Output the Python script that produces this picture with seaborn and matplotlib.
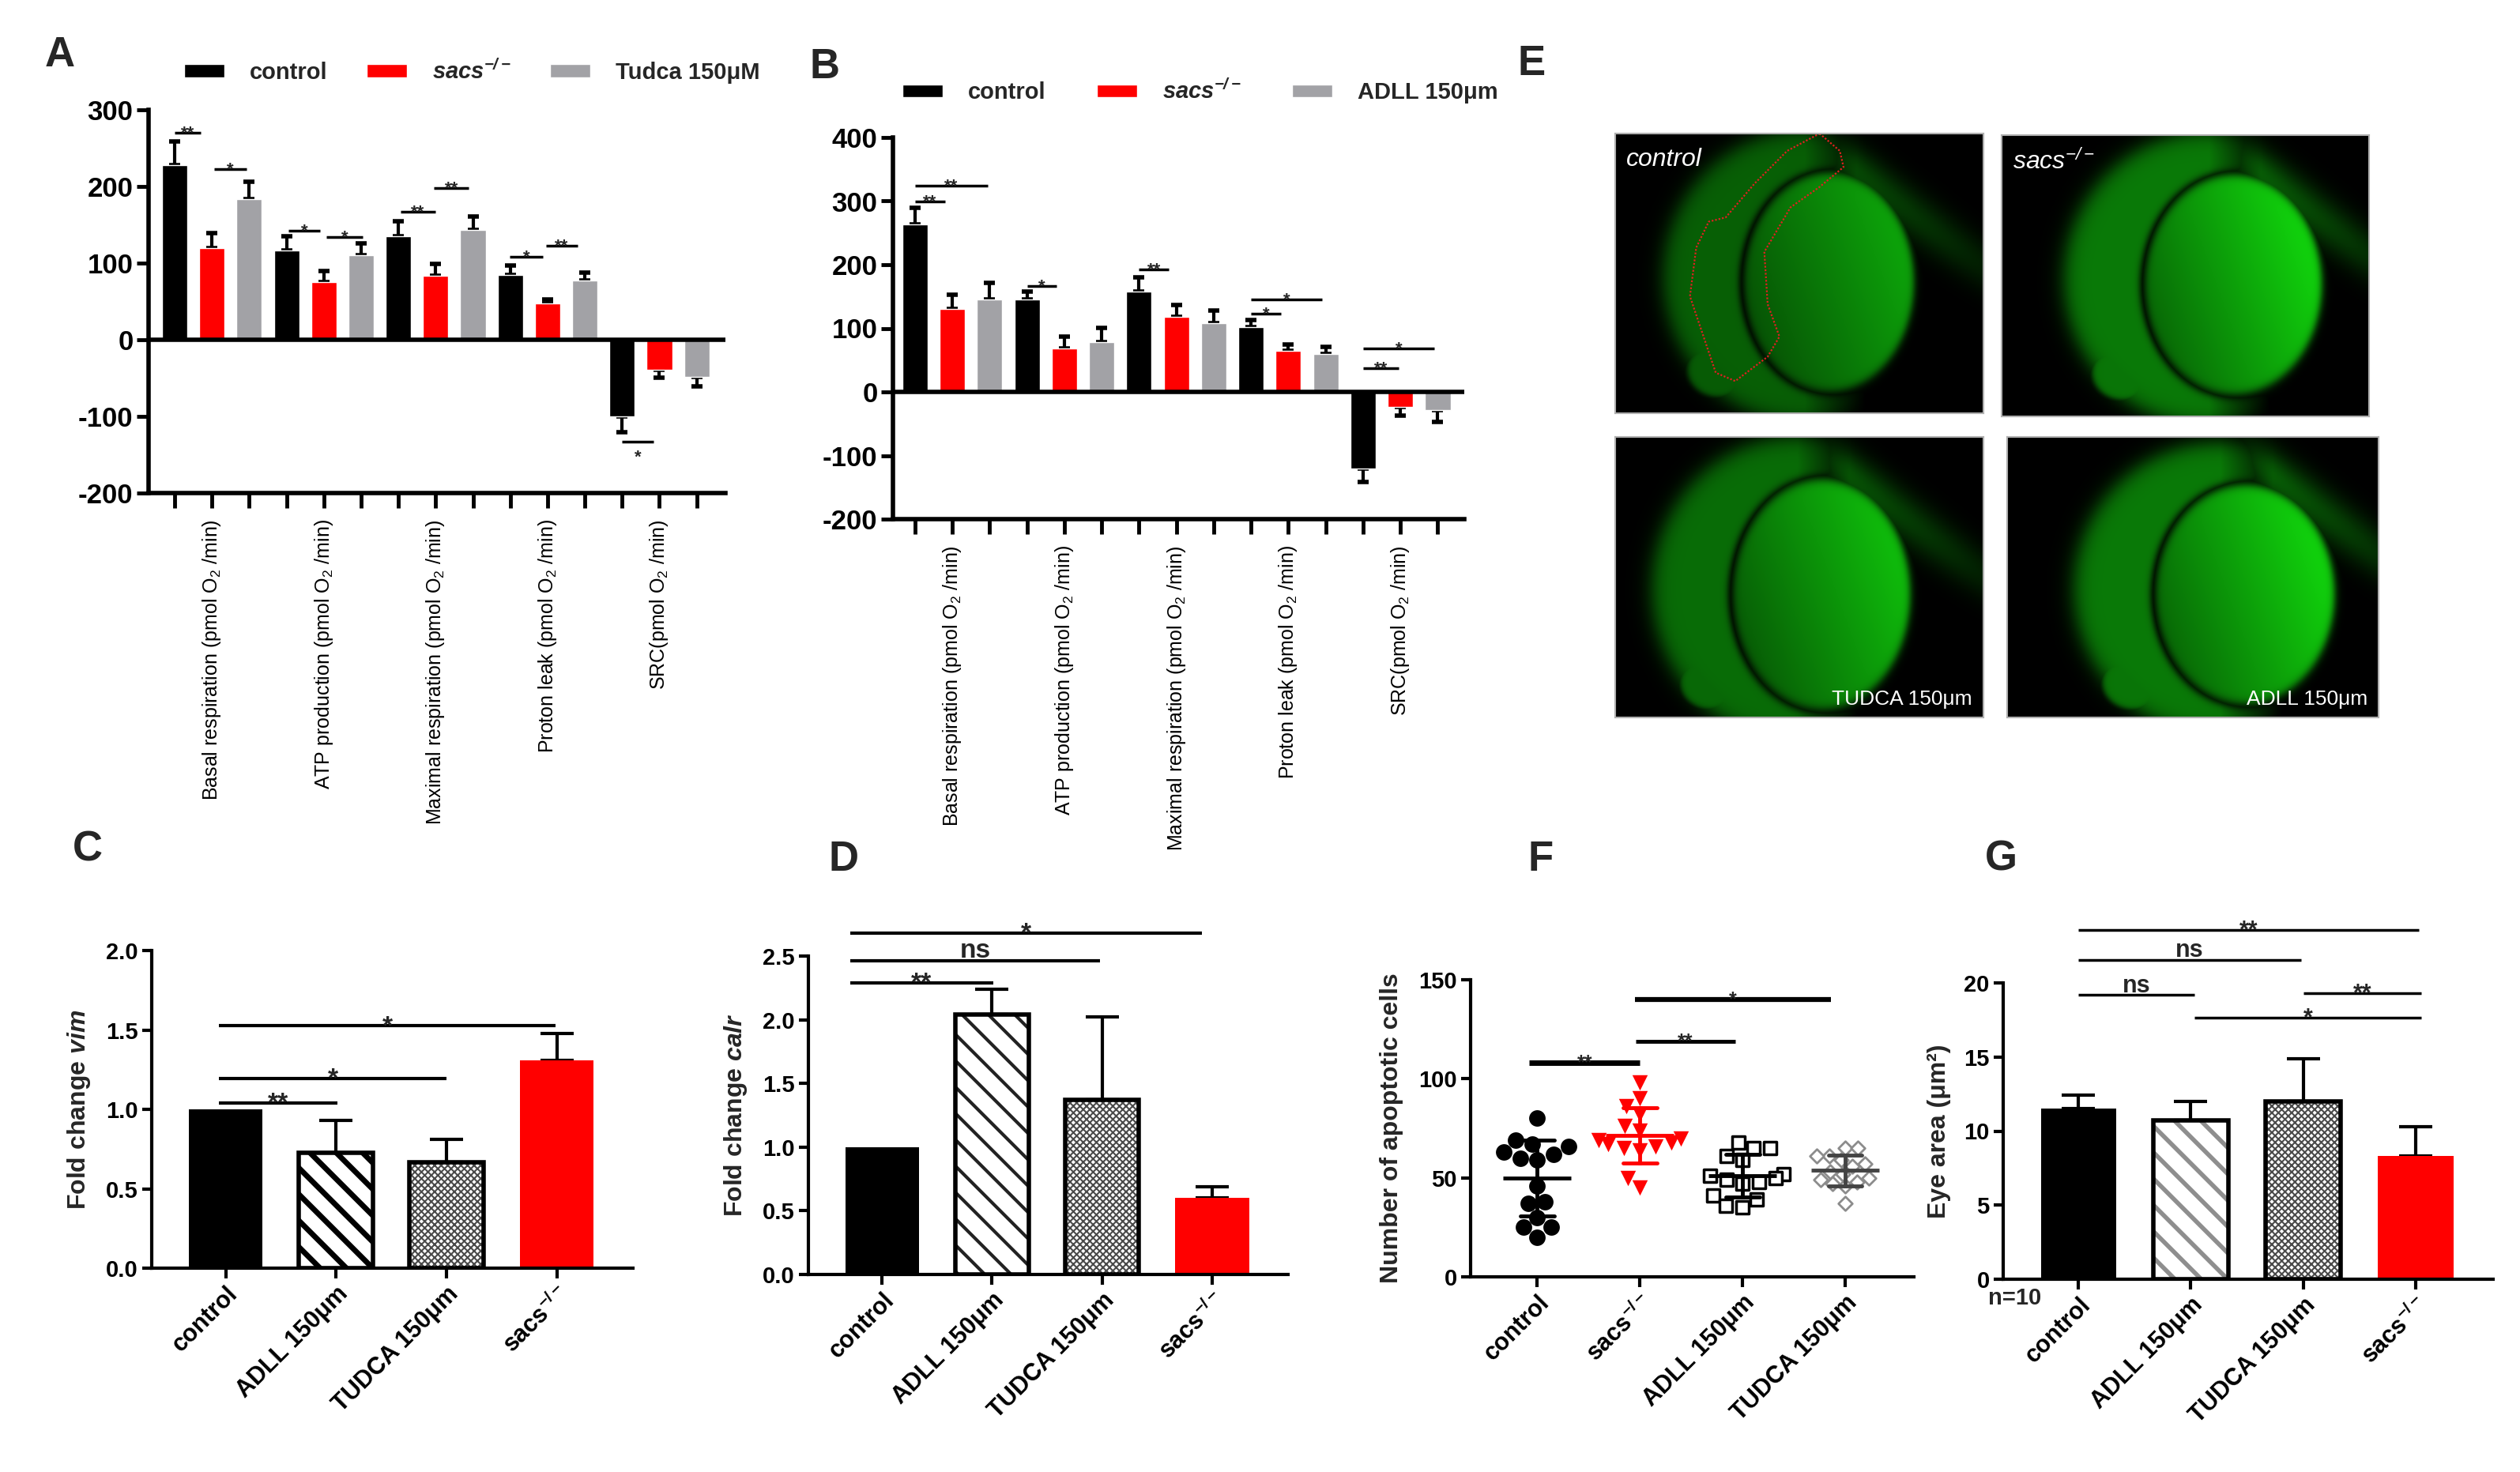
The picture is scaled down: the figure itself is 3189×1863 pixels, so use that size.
import numpy as np
import pandas as pd
import matplotlib
matplotlib.use('Agg')
import matplotlib.pyplot as plt
from matplotlib.patches import Patch, Rectangle
from matplotlib.ticker import FormatStrFormatter
import seaborn as sns

# ---------------- data ----------------
# panel A / B : mitochondrial respiration
a_measures = ['Basal respiration (pmol O$\\mathregular{_2}$ /min)',
              'ATP production (pmol O$\\mathregular{_2}$ /min)',
              'Maximal respiration (pmol O$\\mathregular{_2}$ /min)',
              'Proton leak (pmol O$\\mathregular{_2}$ /min)',
              'SRC(pmol O$\\mathregular{_2}$ /min)']
a_groups = ['control', 'sacs', 'Tudca 150\u03bcM']
a_control = [228, 116, 135, 85, -100]
a_control_err = [31, 19, 20, 12, 21]
a_sacs = [120, 75, 83, 47, -39]
a_sacs_err = [19, 15, 16, 6, 10]
a_tudca = [183, 110, 143, 77, -48]
a_tudca_err = [23, 16, 18, 11, 13]
# significance bars: (first bar index, last bar index, y, label)
a_sig = [(0, 0.7, 270, '**'), (1.05, 1.93, 223, '*'), (3.05, 3.9, 142, '*'),
         (4.07, 5.04, 134, '*'), (6.05, 7.0, 167, '**'), (6.96, 7.88, 198, '**'),
         (8.99, 9.88, 108, '*'), (9.97, 10.8, 123, '**'), (12.0, 12.85, -133, '*v')]

b_groups = ['control', 'sacs', 'ADLL 150\u03bcm']
b_control = [263, 145, 158, 102, -120]
b_control_err = [27, 13, 22, 11, 21]
b_sacs = [131, 68, 118, 64, -23]
b_sacs_err = [22, 19, 19, 11, 14]
b_adll = [145, 78, 108, 60, -29]
b_adll_err = [26, 23, 20, 11, 18]
b_sig = [(0, 1.95, 324, '**'), (0, 0.8, 299, '**'), (3.0, 3.8, 167, '*'),
         (6.0, 6.8, 193, '**'), (9.0, 10.9, 145, '*'), (9.0, 9.8, 123, '*'),
         (12.0, 13.9, 68, '*'), (12.0, 12.95, 37, '**')]

# panels C, D, G : bar charts
treat_names = ['control', 'ADLL 150\u03bcm', 'TUDCA 150\u03bcm', 'sacs$\\mathregular{^{-/-}}$']
c_vals = [1.0, 0.725, 0.667, 1.31]
c_err = [0.0, 0.205, 0.145, 0.17]
c_sig = [(-0.06, 1.01, 1.04, '**'), (-0.06, 2.0, 1.195, '*'), (-0.06, 2.99, 1.525, '*')]

d_vals = [1.0, 2.04, 1.37, 0.6]
d_err = [0.0, 0.2, 0.65, 0.09]
d_sig = [(-0.29, 1.01, 2.29, '**'), (-0.29, 1.98, 2.46, 'ns'), (-0.29, 2.91, 2.68, '*')]

g_vals = [11.5, 10.7, 12.0, 8.3]
g_err = [0.95, 1.3, 2.9, 2.0]
g_sig = [(0, 3.03, 23.55, '**'), (0, 1.98, 21.56, 'ns'), (0, 1.03, 19.18, 'ns'),
         (2.0, 3.05, 19.3, '**'), (1.03, 3.05, 17.65, '*')]

# panel F : apoptotic cells per embryo
f_names = ['control', 'sacs$\\mathregular{^{-/-}}$', 'ADLL 150\u03bcm', 'TUDCA 150\u03bcm']
f_control = [80, 69, 67, 66, 63, 62, 60, 59, 46, 38, 37, 30, 25, 25, 20]
f_sacs = [98, 90, 86, 82, 76, 74, 70, 69, 68, 67, 66, 65, 64, 50, 45]
f_adll = [68, 65, 65, 61, 59, 52, 51, 50, 49, 48, 47, 41, 39, 36, 35]
f_tudca = [65, 65, 61, 61, 59, 57, 56, 53, 52, 50, 49, 48, 47, 46, 37]
f_sig = [(-0.08, 1.0, 108, '**'), (0.96, 1.93, 119, '**'), (0.95, 2.86, 140, '*')]

# ---------------- style ----------------
sns.set_style('ticks')
plt.rcParams['font.family'] = ['Liberation Sans', 'DejaVu Sans']
plt.rcParams['mathtext.fontset'] = 'custom'
plt.rcParams['mathtext.rm'] = 'Liberation Sans:bold'
plt.rcParams['mathtext.it'] = 'Liberation Sans:italic:bold'
plt.rcParams['mathtext.bf'] = 'Liberation Sans:bold'
plt.rcParams['axes.edgecolor'] = 'black'
plt.rcParams['xtick.color'] = 'black'
plt.rcParams['ytick.color'] = 'black'

NARROW = ['Liberation Sans Narrow', 'Liberation Sans', 'DejaVu Sans']
RED = '#ff0000'
GREY = '#a2a2a6'

fig = plt.figure(figsize=(31.89, 18.63), dpi=100)
fig.patch.set_facecolor('white')


def W(px):
    return px / 3189


def H(px):
    return px / 1863


def rect(x0, y0, x1, y1):
    # pixel box (top-left origin) -> figure fraction
    return [W(x0), 1 - H(y1), W(x1 - x0), H(y1 - y0)]


def add_sig(ax, x0, x1, y, label, lw=2.5, fs=20):
    ax.plot([x0, x1], [y, y], color='black', lw=lw, clip_on=False,
            solid_capstyle='butt', zorder=5)
    below = label.endswith('v')
    label = label.rstrip('v')
    if '*' in label:
        off = -1.15 * fs if below else -0.3 * fs
    else:
        off = 0.12 * fs
    ax.annotate(label, ((x0 + x1) / 2, y), xytext=(0, off), textcoords='offset points',
                ha='center', va='baseline', fontsize=fs, fontweight='bold',
                annotation_clip=False, zorder=6)


def long_table(labels, names, series):
    rows = []
    for name, vals in zip(names, series):
        for lab, v in zip(labels, vals):
            rows.append({'measure': lab, 'group': name, 'value': v})
    return pd.DataFrame(rows)


def resp_panel(box, names, series, errs, ylim, yticks, sig, xlim_bars, leg_anchor, colspace):
    ax = fig.add_axes(rect(*box))
    df = long_table(a_measures, names, series)
    order = list(a_measures)
    sns.barplot(data=df, x='measure', y='value', hue='group', order=order, hue_order=names,
                palette=['black', RED, GREY], width=1.0, gap=0.32, errorbar=None,
                saturation=1, legend=False, ax=ax, zorder=2)
    bar_conts = list(ax.containers)
    centers = []
    for k, cont in enumerate(bar_conts):
        for j, bar in enumerate(cont.patches):
            xc = bar.get_x() + bar.get_width() / 2
            v = series[k][j]
            e = errs[k][j]
            yerr = [[0], [e]] if v >= 0 else [[e], [0]]
            ax.errorbar([xc], [v], yerr=yerr, fmt='none', ecolor='black',
                        elinewidth=3, capsize=5, capthick=4, zorder=1)
            centers.append((xc, k, j))
    centers.sort()
    ax.set_xticks([c[0] for c in centers])
    ax.set_xticklabels([order[j] if k == 1 else '' for _, k, j in centers],
                       rotation=90, fontsize=18, va='top', ha='center')
    ax.axhline(0, color='black', lw=4, zorder=3)
    ax.set_ylim(*ylim)
    ax.set_yticks(yticks)
    ax.set_yticklabels([str(t) for t in yticks], fontsize=25, fontweight='bold', family=NARROW)
    ax.set_xlim((xlim_bars[0] - 1) / 3, (xlim_bars[1] - 1) / 3)
    ax.set_xlabel('')
    ax.set_ylabel('')
    sns.despine(ax=ax)
    for s in ['left', 'bottom']:
        ax.spines[s].set_linewidth(4)
    ax.tick_params(axis='x', length=14, width=3.5, pad=10)
    ax.tick_params(axis='y', length=11, width=3.5, pad=3)
    for x0, x1, y, lab in sig:
        add_sig(ax, (x0 - 1) / 3, (x1 - 1) / 3, y, lab, lw=2.5, fs=16)
    handles = [Patch(facecolor=c) for c in ['black', RED, GREY]]
    labels = ['control', 'sacs$\\mathregular{^{-/-}}$', names[2]]
    leg = ax.legend(handles, labels, loc='center left', bbox_to_anchor=leg_anchor, ncol=3,
                    frameon=False, handlelength=1.75, handleheight=0.5, handletextpad=1.1,
                    columnspacing=colspace, borderaxespad=0,
                    prop={'family': NARROW, 'weight': 'bold', 'size': 21})
    leg.get_texts()[1].set_fontstyle('italic')
    return ax


resp_panel((188, 139, 918, 624), a_groups, [a_control, a_sacs, a_tudca],
           [a_control_err, a_sacs_err, a_tudca_err], (-200, 300),
           [-200, -100, 0, 100, 200, 300], a_sig, (-0.7, 14.77), (0.045, 1.10), 1.7)
resp_panel((1130, 174, 1853, 657), b_groups, [b_control, b_sacs, b_adll],
           [b_control_err, b_sacs_err, b_adll_err], (-200, 400),
           [-200, -100, 0, 100, 200, 300, 400], b_sig, (-0.59, 14.71), (0.0, 1.12), 2.2)


def bar_panel(box, vals, errs, ylim, yticks, fmt, ylabel, sig, styles, stripe_col,
              sig_lw, sig_fs, hatch_lw):
    ax = fig.add_axes(rect(*box))
    df = pd.DataFrame({'group': treat_names, 'value': vals})
    base = {'solid_k': 'black', 'solid_r': RED, 'stripe': 'white', 'check': 'white'}
    sns.barplot(data=df, x='group', y='value', hue='group', order=treat_names,
                hue_order=treat_names, palette=[base[s] for s in styles], width=0.67,
                errorbar=None, saturation=1, legend=False, ax=ax, zorder=2)
    bars = list(ax.patches)
    for bar, st, v, e in zip(bars, styles, vals, errs):
        bar.set_linewidth(0)
        if st in ('stripe', 'check'):
            bar.set_hatch('\\' if st == 'stripe' else 'xxxx')
            bar.set_edgecolor(stripe_col if st == 'stripe' else '#4a4a4a')
            if hasattr(bar, 'set_hatch_linewidth'):
                bar.set_hatch_linewidth(hatch_lw if st == 'stripe' else 1.5)
            ax.add_patch(Rectangle((bar.get_x(), bar.get_y()), bar.get_width(),
                                   bar.get_height(), fill=False, edgecolor='black',
                                   lw=4, zorder=3))
        xc = bar.get_x() + bar.get_width() / 2
        if e > 0:
            ax.errorbar([xc], [v], yerr=[[0], [e]], fmt='none', ecolor='black',
                        elinewidth=3, capsize=15, capthick=3, zorder=1)
    ax.set_ylim(*ylim)
    ax.set_xlim(-0.67, 3.69)
    ax.set_yticks(yticks)
    ax.yaxis.set_major_formatter(FormatStrFormatter(fmt))
    ax.set_xlabel('')
    ax.set_ylabel(ylabel, fontsize=23, fontweight='bold', labelpad=12)
    sns.despine(ax=ax)
    for s in ['left', 'bottom']:
        ax.spines[s].set_linewidth(3)
    ax.tick_params(axis='both', length=9, width=3, labelsize=21)
    for t in ax.get_yticklabels():
        t.set_fontweight('bold')
    ax.set_xticks(range(len(treat_names)))
    ax.set_xticklabels(treat_names, rotation=45, ha='right', rotation_mode='anchor',
                       fontsize=22, fontweight='bold')
    for x0, x1, y, lab in sig:
        add_sig(ax, x0, x1, y, lab, lw=sig_lw, fs=sig_fs)
    return ax


styles = ['solid_k', 'stripe', 'check', 'solid_r']
bar_panel((192, 1203, 801, 1605), c_vals, c_err, (0, 2.0), [0, 0.5, 1.0, 1.5, 2.0], '%.1f',
          'Fold change $\\mathit{vim}$', c_sig, styles, 'black', 3, 24, 5)
bar_panel((1023, 1210, 1630, 1613), d_vals, d_err, (0, 2.5), [0, 0.5, 1.0, 1.5, 2.0, 2.5], '%.1f',
          'Fold change $\\mathit{calr}$', d_sig, styles, '#222222', 3, 24, 3)
axg = bar_panel((2535, 1244, 3155, 1619), g_vals, g_err, (0, 20), [0, 5, 10, 15, 20], '%d',
                'Eye area (\u03bcm\u00b2)', g_sig, styles, '#8e8e8e', 2.5, 22, 4)
axg.text(-0.03, -0.065, 'n=10', transform=axg.transAxes, ha='left', va='center',
         fontsize=21, fontweight='bold')

# ---------------- panel F ----------------
axf = fig.add_axes(rect(1861, 1240, 2422, 1616))
rows = []
for name, vals in zip(f_names, [f_control, f_sacs, f_adll, f_tudca]):
    for v in vals:
        rows.append({'group': name, 'value': v})
df_f = pd.DataFrame(rows)
marker_style = [('o', 'black', 'black', 15, 0),
                ('v', RED, RED, 14, 0),
                ('s', 'white', 'black', 12, 2.5),
                ('D', 'white', '#8c8c8c', 9, 2)]
for name, (mk, face, edge, size, lw) in zip(f_names, marker_style):
    sns.swarmplot(data=df_f[df_f['group'] == name], x='group', y='value', order=f_names,
                  marker=mk, color=face, edgecolor=edge, linewidth=lw, size=size,
                  ax=axf, warn_thresh=1, zorder=2)
sns.pointplot(data=df_f, x='group', y='value', hue='group', order=f_names, hue_order=f_names,
              palette=['black', RED, 'black', '#444444'], errorbar='sd', marker='_',
              markersize=62, markeredgewidth=3.5, linestyle='none', capsize=0.33,
              err_kws={'linewidth': 3.5}, dodge=False, legend=False, ax=axf)
axf.set_ylim(0, 150)
axf.set_xlim(-0.65, 3.67)
axf.set_yticks([0, 50, 100, 150])
axf.set_xlabel('')
axf.set_ylabel('Number of apoptotic cells', fontsize=23, fontweight='bold', labelpad=14)
sns.despine(ax=axf)
for s in ['left', 'bottom']:
    axf.spines[s].set_linewidth(3)
axf.tick_params(axis='both', length=9, width=3, labelsize=21)
for t in axf.get_yticklabels():
    t.set_fontweight('bold')
axf.set_xticks(range(len(f_names)))
axf.set_xticklabels(f_names, rotation=45, ha='right', rotation_mode='anchor',
                    fontsize=22, fontweight='bold')
for (x0, x1, y, lab), lw in zip(f_sig, [5, 3.5, 4.5]):
    add_sig(axf, x0, x1, y, lab, lw=lw, fs=18)


# ---------------- panel E (embryo images) ----------------
e_boxes = [(2044, 169, 2510, 523), (2533, 171, 2998, 527),
           (2044, 553, 2510, 908), (2540, 553, 3010, 908)]
e_yolk = [(0.58, 0.53, 0.23, 0.39), (0.63, 0.53, 0.24, 0.39),
          (0.56, 0.56, 0.24, 0.41), (0.64, 0.56, 0.24, 0.39)]
e_gain = [0.72, 0.92, 0.82, 0.92]
e_texts = [('control', 'tl'), ('sacs$\\mathregular{^{-/-}}$', 'tl'),
           ('TUDCA 150\u03bcm', 'br'), ('ADLL 150\u03bcm', 'br')]


def embryo(h, w, yolk, gain):
    yy, xx = np.mgrid[0:h, 0:w]
    u = xx / w
    v = yy / h
    cx, cy, rx, ry = yolk

    def blob(x0, y0, ax_, ay_, soft=0.05):
        d = np.sqrt(((u - x0) / ax_) ** 2 + ((v - y0) / ay_) ** 2)
        return 1 / (1 + np.exp((d - 1) / soft))

    core = blob(cx, cy, rx, ry, 0.025)
    yolk_m = core * np.clip(0.5 + 0.9 * (u - cx + 0.2) - 0.25 * (v - cy), 0.3, 1.0)
    outer = blob(cx - 0.07, cy - 0.02, rx + 0.15, ry + 0.13, 0.04)
    rim = blob(cx, cy, rx + 0.015, ry + 0.015, 0.02)
    band = outer * (1 - rim) * np.clip((cx + 0.1 - u) * 6, 0, 1) * 0.52
    dist = np.abs((v - 0.04) - (u - cx + 0.03) * 1.0) / 1.41
    tail = np.exp(-(dist / 0.07) ** 2) * np.clip((u - cx + 0.05) * 8, 0, 1) \
        * np.clip(1.15 - v * 1.6, 0, 1) * 0.42
    eye = blob(cx - 0.3, cy + 0.31, 0.085, 0.1, 0.06) * 0.5
    inten = np.maximum.reduce([yolk_m, band, tail, eye]) * gain
    img = np.zeros((h, w, 3))
    img[..., 0] = 0.08 * inten
    img[..., 1] = inten
    img[..., 2] = 0.06 * inten
    return np.clip(img, 0, 1)


for box, yk, gn, (txt, pos) in zip(e_boxes, e_yolk, e_gain, e_texts):
    axe = fig.add_axes(rect(*box))
    hpx = box[3] - box[1]
    wpx = box[2] - box[0]
    axe.imshow(embryo(hpx, wpx, yk, gn), extent=[0, 1, 1, 0], aspect='auto')
    axe.set_xlim(0, 1)
    axe.set_ylim(1, 0)
    axe.set_xticks([])
    axe.set_yticks([])
    for s in axe.spines.values():
        s.set_edgecolor('#b0b0b0')
        s.set_linewidth(1.5)
    if pos == 'tl':
        axe.text(0.03, 0.95, txt, color='white', fontsize=23, fontstyle='italic',
                 ha='left', va='top', transform=axe.transAxes, family=NARROW)
    else:
        axe.text(0.97, 0.03, txt, color='white', fontsize=19, ha='right', va='bottom',
                 transform=axe.transAxes, family=NARROW)
    if txt == 'control':
        outline_x = [0.555, 0.61, 0.62, 0.556, 0.476, 0.405, 0.414, 0.446, 0.414, 0.326,
                     0.273, 0.203, 0.22, 0.254, 0.3, 0.379, 0.467, 0.555]
        outline_y = [0.0, 0.062, 0.12, 0.19, 0.264, 0.423, 0.61, 0.726, 0.798, 0.885,
                     0.855, 0.582, 0.408, 0.315, 0.3, 0.178, 0.062, 0.0]
        axe.plot(outline_x, outline_y, color='#e02020', lw=1.6, ls=(0, (1, 1)))

# ---------------- panel letters ----------------
for letter, (px, py) in zip('ABECDFG', [(76, 70), (1043, 85), (1938, 81), (111, 1075),
                                        (1067, 1088), (1950, 1088), (2532, 1088)]):
    fig.text(W(px), 1 - H(py), letter, fontsize=38, fontweight='bold', ha='center', va='center')

fig.savefig('out.png', dpi=100, facecolor='white')
